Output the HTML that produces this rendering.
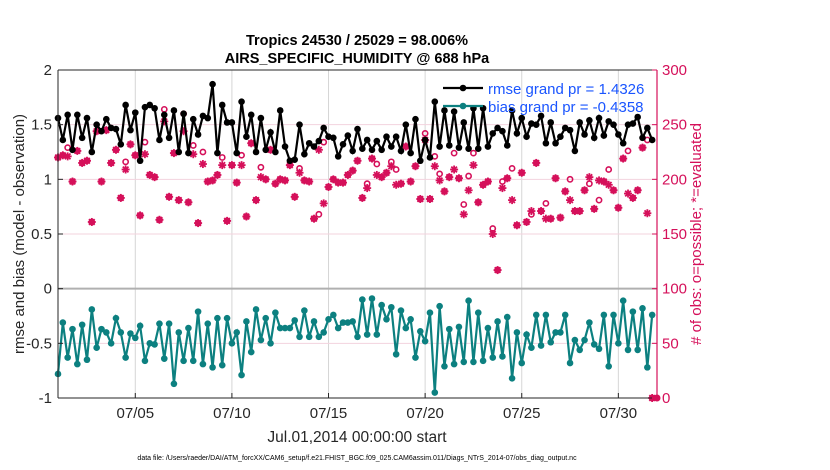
<!DOCTYPE html>
<html><head><meta charset="utf-8"><style>
body{margin:0;background:#fff;}
svg{display:block;font-family:"Liberation Sans",sans-serif;}
</style></head><body>
<svg id="chart" width="830" height="470"></svg>
<script>
const rmse=[1.56,1.36,1.59,1.27,1.59,1.38,1.56,1.25,1.50,1.44,1.55,1.47,1.46,1.32,1.68,1.45,1.61,1.17,1.66,1.68,1.65,1.36,1.59,1.38,1.63,1.25,1.60,1.24,1.55,1.41,1.58,
1.56,1.87,1.24,1.68,1.52,1.52,1.24,1.71,1.39,1.59,1.25,1.56,1.27,1.43,1.25,1.63,1.30,1.17,1.18,1.50,1.23,1.33,1.30,1.35,1.47,1.39,1.38,1.21,1.32,1.40,1.26,1.46,
1.28,1.36,1.27,1.35,1.27,1.39,1.30,1.39,1.26,1.50,1.24,1.55,1.17,1.36,1.20,1.71,1.30,1.63,1.31,1.62,1.29,1.52,1.28,1.65,1.28,1.65,1.30,1.42,1.47,1.44,1.31,1.63,
1.42,1.56,1.39,1.51,1.50,1.58,1.33,1.52,1.33,1.39,1.47,1.45,1.26,1.52,1.41,1.54,1.38,1.56,1.40,1.53,1.50,1.41,1.33,1.50,1.51,1.57,1.38,1.47,1.36];
const bias=[-0.78,-0.31,-0.63,-0.37,-0.69,-0.33,-0.65,-0.19,-0.54,-0.37,-0.40,-0.50,-0.27,-0.40,-0.63,-0.41,-0.45,-0.34,-0.66,-0.50,-0.51,-0.32,-0.64,-0.32,-0.87,-0.40,-0.66,-0.36,-0.66,-0.21,-0.69,-0.32,
-0.72,-0.27,-0.70,-0.27,-0.50,-0.40,-0.79,-0.30,-0.58,-0.19,-0.47,-0.27,-0.50,-0.22,-0.36,-0.36,-0.36,-0.29,-0.44,-0.20,-0.44,-0.30,-0.44,-0.40,-0.28,-0.24,-0.36,-0.31,-0.31,-0.30,-0.44,
-0.10,-0.42,-0.09,-0.42,-0.15,-0.28,-0.17,-0.60,-0.20,-0.36,-0.28,-0.63,-0.39,-0.48,-0.22,-0.95,-0.16,-0.71,-0.37,-0.69,-0.35,-0.67,-0.11,-0.67,-0.22,-0.66,-0.36,-0.63,-0.30,-0.62,-0.26,-0.82,
-0.40,-0.68,-0.42,-0.54,-0.24,-0.52,-0.24,-0.49,-0.40,-0.40,-0.24,-0.68,-0.47,-0.56,-0.47,-0.31,-0.51,-0.55,-0.24,-0.71,-0.24,-0.50,-0.11,-0.56,-0.21,-0.56,-0.18,-0.72,-0.24];
const evaluated=[220,222,221,198,226,215,217,161,244,198,245,215,227,183,209,232,222,167,223,204,202,163,253,184,224,181,244,179,223,160,214,198,
199,204,213,162,213,197,213,166,233,181,202,200,227,196,200,199,213,184,206,199,198,164,227,178,193,200,197,197,204,208,217,
183,192,219,204,202,206,212,195,196,230,198,212,182,236,182,212,199,189,202,209,201,168,190,213,179,195,198,150,117,192,201,
181,158,206,161,171,215,171,164,164,201,165,189,181,171,171,190,202,173,199,198,195,190,174,219,187,183,190,229,169,0];
const possible=evaluated.slice();
const extraIdx=[2,14,18,22,26,28,30,34,38,42,50,54,55,64,66,69,70,76,78,79,82,84,85,86,90,92,94,98,101,106,110,112,114,118,122];
const extraVal=[229,216,234,264,260,231,225,220,222,211,210,168,234,196,214,216,209,242,221,205,224,177,203,224,155,198,210,168,178,200,196,181,209,226,236];
const xTicks=["07/05","07/10","07/15","07/20","07/25","07/30"];
const xTickDays=[4,9,14,19,24,29];
const yTicks=[-1,-0.5,0,0.5,1,1.5,2];
const rTicks=[0,50,100,150,200,250,300];
extraIdx.forEach((k,i)=>{possible[k]=extraVal[i];});

const NS="http://www.w3.org/2000/svg";
const svg=document.getElementById('chart');
const L=58,R=657,T=70,B=398;
const xs=i=>L+(i*0.25)*(R-L)/31;
const xd=d=>L+d*(R-L)/31;
const yl=v=>B-(v+1)/3*(B-T);
const yr=v=>B-v/300*(B-T);
function mk(tag,at,parent){const e=document.createElementNS(NS,tag);for(const k in at)e.setAttribute(k,at[k]);(parent||svg).appendChild(e);return e;}

mk('rect',{x:L,y:T,width:R-L,height:B-T,fill:'#fff'});
const grid=mk('g',{});


xTickDays.forEach(d=>mk('line',{x1:xd(d),x2:xd(d),y1:T,y2:B,stroke:'#d6d6d6','stroke-width':1},grid));
rTicks.forEach(v=>mk('line',{x1:L,x2:R,y1:yr(v),y2:yr(v),stroke:'#f3d3de','stroke-width':1},grid));
const zl=mk('line',{x1:L,x2:R,y1:yl(0),y2:yl(0),stroke:'#b0b0b0','stroke-width':2});



// red obs counts
const red='#d5105a';
const obsG=mk('g',{});


possible.forEach((v,i)=>{const c=mk('circle',{cx:xs(i),cy:yr(v),r:2.6,fill:'none',stroke:red,'stroke-width':1.6},obsG);

});
evaluated.forEach((v,i)=>{const g=mk('g',{},obsG);


const x=xs(i),y=yr(v),r=4;
for(let a=0;a<4;a++){const t=a*Math.PI/4;mk('line',{x1:x-r*Math.cos(t),y1:y-r*Math.sin(t),x2:x+r*Math.cos(t),y2:y+r*Math.sin(t),stroke:red,'stroke-width':1.8},g);}});

function series(arr,color,name){const g=mk('g',{});


mk('polyline',{points:arr.map((v,i)=>xs(i)+','+yl(v)).join(' '),fill:'none',stroke:color,'stroke-width':2.2},g);
arr.forEach((v,i)=>{const c=mk('circle',{cx:xs(i),cy:yl(v),r:3.3,fill:color},g);

});}
series(rmse,'#000','rmse-line');
series(bias,'#0c8080','bias-line');

// axes
mk('line',{x1:L,x2:L,y1:T,y2:B,stroke:'#262626','stroke-width':1});
mk('line',{x1:L,x2:R,y1:B,y2:B,stroke:'#262626','stroke-width':1});
mk('line',{x1:L,x2:R,y1:T,y2:T,stroke:'#262626','stroke-width':1});
mk('line',{x1:R,x2:R,y1:T,y2:B,stroke:red,'stroke-width':1.2});
yTicks.forEach(v=>{mk('line',{x1:L,x2:L+5,y1:yl(v),y2:yl(v),stroke:'#262626'});
const t=mk('text',{x:L-6,y:yl(v)+5,'text-anchor':'end','font-size':15,fill:'#262626'});t.textContent=v;

});
rTicks.forEach(v=>{mk('line',{x1:R-5,x2:R,y1:yr(v),y2:yr(v),stroke:red});
const t=mk('text',{x:R+5,y:yr(v)+5,'font-size':15,fill:red});t.textContent=v;

});
xTicks.forEach((s,i)=>{const x=xd(xTickDays[i]);mk('line',{x1:x,x2:x,y1:B-5,y2:B,stroke:'#262626'});
const t=mk('text',{x:x,y:B+20,'text-anchor':'middle','font-size':15,fill:'#262626'});t.textContent=s;

});
mk('circle',{cx:R,cy:B,r:3.5,fill:red});
</script>
<svg width="830" height="470" style="position:absolute;left:0;top:0;font-family:'Liberation Sans',sans-serif">
<text x="357" y="45" text-anchor="middle" font-size="14.5" font-weight="bold" fill="#000">Tropics 24530 / 25029 = 98.006%</text>
<text x="357" y="63" text-anchor="middle" font-size="14.5" font-weight="bold" fill="#000">AIRS_SPECIFIC_HUMIDITY @ 688 hPa</text>
<text transform="translate(24,234) rotate(-90)" text-anchor="middle" font-size="15" fill="#262626">rmse and bias (model - observation)</text>
<text transform="translate(701,234) rotate(-90)" text-anchor="middle" font-size="15" fill="#d5105a"># of obs: o=possible; *=evaluated</text>
<text x="357" y="442" text-anchor="middle" font-size="15.5" fill="#262626">Jul.01,2014 00:00:00 start</text>
<text x="357" y="460" text-anchor="middle" font-size="7" fill="#000">data file: /Users/raeder/DAI/ATM_forcXX/CAM6_setup/f.e21.FHIST_BGC.f09_025.CAM6assim.011/Diags_NTrS_2014-07/obs_diag_output.nc</text>
<g>
<line x1="443" y1="88" x2="483" y2="88" stroke="#000" stroke-width="2.2"/><circle cx="463" cy="88" r="3.3" fill="#000"/>
<text x="488" y="94" font-size="15" fill="#1a55ff">rmse grand pr = 1.4326</text>
<line x1="443" y1="106" x2="483" y2="106" stroke="#0c8080" stroke-width="2.2"/><circle cx="463" cy="106" r="3.3" fill="#0c8080"/>
<text x="488" y="112" font-size="15" fill="#1a55ff">bias grand pr = -0.4358</text>
</g>
</svg>
</body></html>
